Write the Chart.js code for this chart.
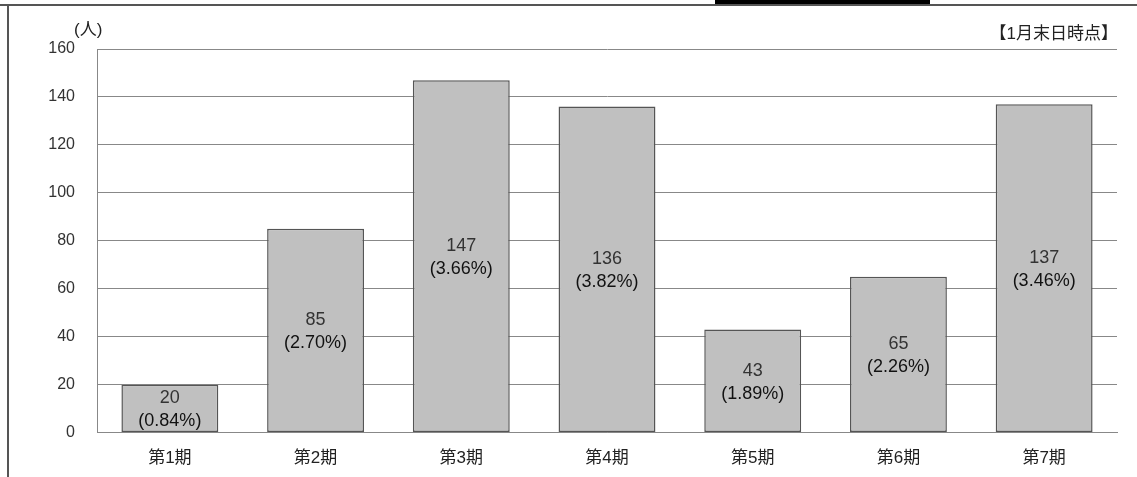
<!DOCTYPE html>
<html><head><meta charset="utf-8">
<script src="https://cdn.jsdelivr.net/npm/chart.js@4"></script>
<style>html,body{margin:0;padding:0;background:#fff}#wrap{width:1137px;height:477px}</style>
</head><body><div id="wrap"><canvas id="c"></canvas></div>
<script>
const categories = ['第1期','第2期','第3期','第4期','第5期','第6期','第7期'];
const counts = [20, 85, 147, 136, 43, 65, 137];
const shares = ['(0.84%)','(2.70%)','(3.66%)','(3.82%)','(1.89%)','(2.26%)','(3.46%)'];
const yTicks = [0, 20, 40, 60, 80, 100, 120, 140, 160];
const FONT = '"Liberation Sans", "Noto Sans CJK JP", sans-serif';

const decor = {
  id: 'decor',
  afterDraw(chart) {
    const ctx = chart.ctx;
    ctx.save();
    ctx.fillStyle = '#555';
    ctx.fillRect(0, 4, 1137, 2);
    ctx.fillRect(7, 4, 2, 473);
    ctx.fillStyle = '#000';
    ctx.fillRect(715, 0, 215, 4);
    ctx.fillStyle = '#222';
    ctx.font = '17px ' + FONT;
    ctx.textBaseline = 'middle';
    ctx.textAlign = 'left';
    ctx.fillText('(人)', 98 - 24, 30);
    ctx.textAlign = 'right';
    ctx.fillText('【1月末日時点】', 1118, 34);
    // bar labels
    const meta = chart.getDatasetMeta(0);
    ctx.textAlign = 'center';
    ctx.font = '18px ' + FONT;
    meta.data.forEach((bar, i) => {
      const mid = (bar.y + bar.base) / 2;
      ctx.fillStyle = '#333';
      ctx.fillText(String(counts[i]), bar.x, mid - 10);
      ctx.fillStyle = '#111';
      ctx.fillText(shares[i], bar.x, mid + 13);
    });
    ctx.restore();
  }
};

new Chart(document.getElementById('c'), {
  type: 'bar',
  data: {
    labels: categories,
    datasets: [{
      data: counts,
      backgroundColor: '#c0c0c0',
      borderColor: '#555',
      borderWidth: 1.5,
      borderSkipped: false,
      categoryPercentage: 1,
      barPercentage: 0.665
    }]
  },
  options: {
    responsive: true,
    maintainAspectRatio: false,
    animation: false,
    layout: { padding: { top: 49, right: 20, bottom: 0, left: 0 } },
    plugins: { legend: { display: false }, tooltip: { enabled: false } },
    scales: {
      x: {
        grid: { display: false },
        border: { color: '#888' },
        ticks: { color: '#222', font: { size: 17, family: FONT }, padding: 8 }
      },
      y: {
        min: 0, max: 160,
        afterFit(s) { s.width = 97; },
        afterBuildTicks(s) { s.ticks = yTicks.map(v => ({ value: v })); },
        grid: { color: '#888', drawTicks: false },
        border: { color: '#888' },
        ticks: { color: '#333', font: { size: 16, family: FONT }, padding: 22 }
      }
    }
  },
  plugins: [decor]
});
</script></body></html>
